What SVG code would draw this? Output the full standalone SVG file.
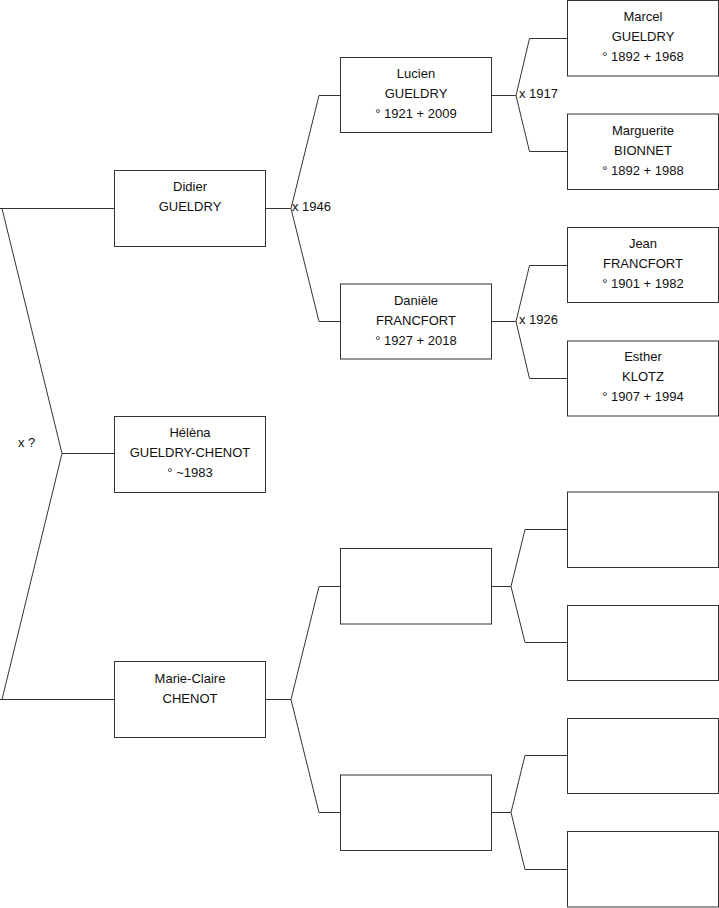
<svg xmlns="http://www.w3.org/2000/svg" width="719" height="908" viewBox="0 0 719 908">
<style>
.box{fill:#fff;stroke:#333;stroke-width:1}
.ln{fill:none;stroke:#333;stroke-width:1}
text{font-family:"Liberation Sans",Arial,sans-serif;font-size:13px;fill:#111}
.c{text-anchor:middle}
</style>
<rect width="719" height="908" fill="#fff"/>
<g id="connectors">
<path class="ln" d="M0,208.5H114.5 M2,208.5L62,453.5L2,699.5 M0,699.5H114.5 M62,453.5H114.5"/>
<path class="ln" d="M265.5,208.5H291L319,95.5H341 M291,208.5L319,321.5H341"/>
<path class="ln" d="M265.5,699.5H291L319,586.5H341 M291,699.5L319,812.5H341"/>
<path class="ln" d="M491.5,95.5H516L529.5,38.5H567.5 M516,95.5L529.5,151.5H567.5"/>
<path class="ln" d="M491.5,321.5H516L529.5,265.5H567.5 M516,321.5L529.5,378.5H567.5"/>
<path class="ln" d="M491.5,586.5H511L525,529.5H567.5 M511,586.5L525,642.5H567.5"/>
<path class="ln" d="M491.5,812.5H511L525,755.5H567.5 M511,812.5L525,869.5H567.5"/>
<text x="292" y="211">x 1946</text>
<text x="519" y="97.5">x 1917</text>
<text x="519" y="324">x 1926</text>
<text x="18" y="447">x ?</text>
</g>
<g id="didier"><rect class="box" x="114.5" y="170.5" width="151" height="76"/><text class="c" x="190" y="190.7">Didier</text><text class="c" x="190" y="210.7">GUELDRY</text></g>
<g id="helena"><rect class="box" x="114.5" y="416.5" width="151" height="76"/><text class="c" x="190" y="437">Hélèna</text><text class="c" x="190" y="457">GUELDRY-CHENOT</text><text class="c" x="190" y="477">° ~1983</text></g>
<g id="marie-claire"><rect class="box" x="114.5" y="661.5" width="151" height="76"/><text class="c" x="190" y="682.5">Marie-Claire</text><text class="c" x="190" y="702.5">CHENOT</text></g>
<g id="lucien"><rect class="box" x="340.5" y="57.5" width="151" height="75"/><text class="c" x="416" y="77.7">Lucien</text><text class="c" x="416" y="97.7">GUELDRY</text><text class="c" x="416" y="117.5">° 1921 + 2009</text></g>
<g id="daniele"><rect class="box" x="340.5" y="284" width="151" height="75"/><text class="c" x="416" y="304.5">Danièle</text><text class="c" x="416" y="324.5">FRANCFORT</text><text class="c" x="416" y="344.5">° 1927 + 2018</text></g>
<g id="empty1"><rect class="box" x="340.5" y="548.5" width="151" height="75.5"/></g>
<g id="empty2"><rect class="box" x="340.5" y="775" width="151" height="75.5"/></g>
<g id="marcel"><rect class="box" x="567.5" y="0.5" width="151" height="75.5"/><text class="c" x="643" y="20.7">Marcel</text><text class="c" x="643" y="40.7">GUELDRY</text><text class="c" x="643" y="60.7">° 1892 + 1968</text></g>
<g id="marguerite"><rect class="box" x="567.5" y="114" width="151" height="75.5"/><text class="c" x="643" y="134.5">Marguerite</text><text class="c" x="643" y="154.5">BIONNET</text><text class="c" x="643" y="174.5">° 1892 + 1988</text></g>
<g id="jean"><rect class="box" x="567.5" y="227.5" width="151" height="75"/><text class="c" x="643" y="247.7">Jean</text><text class="c" x="643" y="267.7">FRANCFORT</text><text class="c" x="643" y="287.7">° 1901 + 1982</text></g>
<g id="esther"><rect class="box" x="567.5" y="341" width="151" height="75"/><text class="c" x="643" y="361">Esther</text><text class="c" x="643" y="381">KLOTZ</text><text class="c" x="643" y="401">° 1907 + 1994</text></g>
<g id="empty3"><rect class="box" x="567.5" y="492" width="151" height="75.5"/></g>
<g id="empty4"><rect class="box" x="567.5" y="605.5" width="151" height="75"/></g>
<g id="empty5"><rect class="box" x="567.5" y="718.5" width="151" height="75"/></g>
<g id="empty6"><rect class="box" x="567.5" y="831.5" width="151" height="75.5"/></g>
</svg>
